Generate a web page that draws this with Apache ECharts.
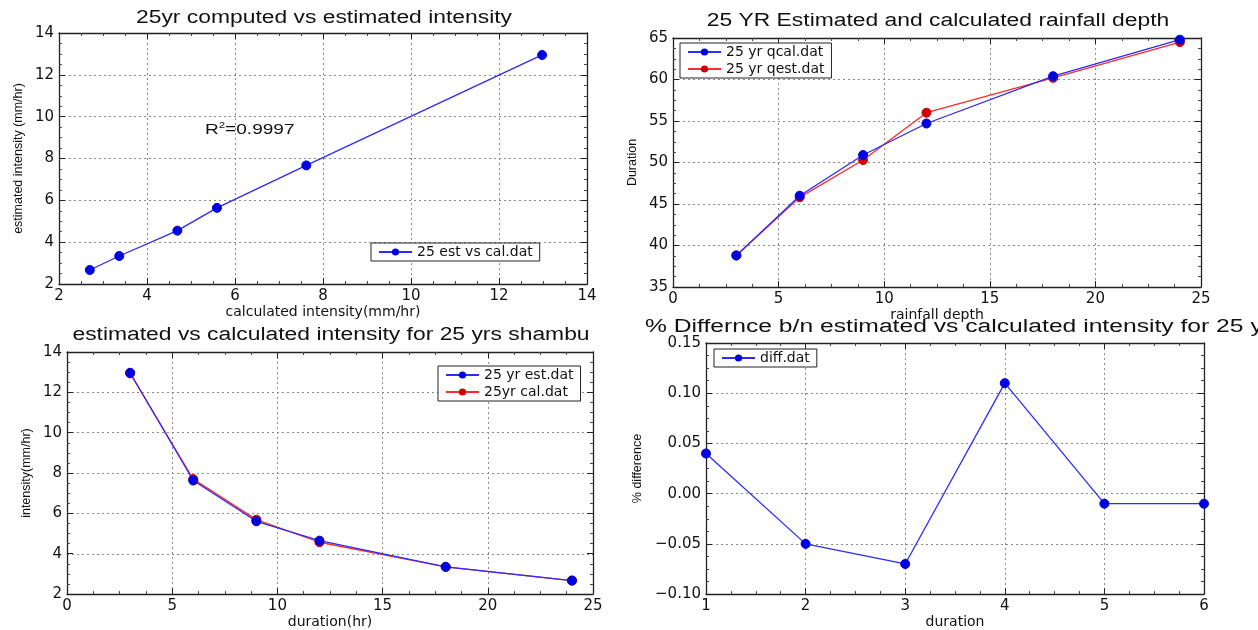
<!DOCTYPE html>
<html>
<head>
<meta charset="utf-8">
<script src="https://cdn.jsdelivr.net/npm/echarts@6/dist/echarts.min.js"></script>
<style>html,body{margin:0;padding:0;background:#fff}#c{width:1258px;height:630px}</style>
</head>
<body>
<div id="c"></div>
<script>
// ---- data ----
const p1Cal = [2.70, 3.37, 4.69, 5.59, 7.62, 12.98];
const p1Est = [2.67, 3.34, 4.55, 5.64, 7.67, 12.95];
const durations = [3, 6, 9, 12, 18, 24];
const depthCal = [38.8, 46.0, 50.9, 54.7, 60.4, 64.8];
const depthEst = [38.8, 45.8, 50.3, 56.0, 60.2, 64.5];
const intEst = [12.97, 7.63, 5.61, 4.65, 3.35, 2.67];
const intCal = [12.94, 7.70, 5.69, 4.57, 3.35, 2.67];
const diffX = [1, 2, 3, 4, 5, 6];
const diffVals = [0.04, -0.05, -0.07, 0.11, -0.01, -0.01];
const titles = [
  '25yr computed vs estimated intensity',
  '25 YR Estimated and calculated rainfall depth',
  'estimated vs calculated intensity for 25 yrs shambu',
  '% Differnce b/n estimated vs calculated intensity for 25 yrs shambu'
];

const FONT = 'Liberation Sans, Arial, sans-serif';
const WFONT = 'DejaVu Sans, Verdana, sans-serif';
const BLUE = '#2b2bff', BLUE_M = '#0000e0';
const RED = '#ff2a2a', RED_M = '#d00000';

function zip(a, b) { return a.map((v, i) => [v, b[i]]); }

function axisPair(kind, gi, min, max, interval, name, nameGap, fmt) {
  const common = {
    type: 'value', gridIndex: gi, min: min, max: max, interval: interval,
    axisLine: { show: true, onZero: false, lineStyle: { color: '#222', width: 1.3 } },
    axisTick: { show: true, inside: true, length: 6, lineStyle: { color: '#222' } },
    minorTick: { show: true, splitNumber: 4, length: 3, lineStyle: { color: '#444' } },
  };
  const primary = Object.assign({}, common, {
    position: kind === 'x' ? 'bottom' : 'left',
    name: name, nameLocation: 'middle', nameGap: nameGap,
    nameTextStyle: kind === 'x'
      ? { fontFamily: WFONT, fontSize: 14, color: '#111' }
      : { fontFamily: FONT, fontSize: 12.5, color: '#111' },
    axisLabel: { show: true, fontFamily: WFONT, fontSize: 15, color: '#111', margin: 5,
      formatter: fmt || (v => String(v)) },
    splitLine: { show: true, lineStyle: { color: '#8a8a8a', type: [2, 3], width: 1 } },
  });
  const secondary = Object.assign({}, common, {
    position: kind === 'x' ? 'top' : 'right',
    axisLabel: { show: false }, splitLine: { show: false },
  });
  return [primary, secondary];
}

function lineSeries(name, xi, yi, data, color, mcolor, z) {
  return {
    type: 'line', name: name, xAxisIndex: xi, yAxisIndex: yi, data: data,
    symbol: 'circle', symbolSize: 9, z: z || 2,
    lineStyle: { color: color, width: 1.3 },
    itemStyle: { color: mcolor, borderColor: mcolor },
    animation: false,
  };
}

const grids = [
  { left: 59, top: 33, width: 528, height: 251 },
  { left: 673, top: 38, width: 528, height: 249 },
  { left: 67, top: 352, width: 526, height: 249 },
  { left: 706, top: 343, width: 498, height: 254 },
];

const xAxes = [].concat(
  axisPair('x', 0, 2, 14, 2, 'calculated intensity(mm/hr)', 16),
  axisPair('x', 1, 0, 25, 5, 'rainfall depth', 16),
  axisPair('x', 2, 0, 25, 5, 'duration(hr)', 19),
  axisPair('x', 3, 1, 6, 1, 'duration', 20)
);
const yAxes = [].concat(
  axisPair('y', 0, 2, 14, 2, 'estimated intensity (mm/hr)', 34),
  axisPair('y', 1, 35, 65, 5, 'Duration', 34),
  axisPair('y', 2, 2, 14, 2, 'intensity(mm/hr)', 34),
  axisPair('y', 3, -0.10, 0.15, 0.05, '% difference', 62,
    v => (v < -1e-9 ? '\u2212' : '') + Math.abs(v).toFixed(2))
);

const legendBase = {
  orient: 'vertical', backgroundColor: '#fff', borderColor: '#222', borderWidth: 1,
  borderRadius: 0, padding: [2, 7, 2, 7], itemGap: 3, itemWidth: 33, itemHeight: 9,
  textStyle: { fontFamily: WFONT, fontSize: 14, color: '#111' },
};

function titleText(text, x, y, align, sx) {
  return { type: 'text', x: x, y: y, scaleX: sx, z: 10, silent: true,
    style: { text: text, fill: '#111', font: '18px ' + FONT, textAlign: align, textVerticalAlign: 'middle' } };
}

const option = {
  backgroundColor: '#fff',
  animation: false,
  grid: grids,
  xAxis: xAxes,
  yAxis: yAxes,
  legend: [
    Object.assign({}, legendBase, { left: 371, top: 243, data: ['25 est vs cal.dat'] }),
    Object.assign({}, legendBase, { left: 680, top: 43, data: ['25 yr qcal.dat', '25 yr qest.dat'] }),
    Object.assign({}, legendBase, { left: 438, top: 366, data: ['25 yr est.dat', '25yr cal.dat'] }),
    Object.assign({}, legendBase, { left: 714, top: 349, data: ['diff.dat'] }),
  ],
  graphic: [
    titleText(titles[0], 324, 18, 'center', 1.27),
    titleText(titles[1], 938, 21, 'center', 1.27),
    titleText(titles[2], 331, 335, 'center', 1.27),
    titleText(titles[3], 645, 327, 'left', 1.37),
    { type: 'text', x: 205, y: 130, scaleX: 1.27, z: 10, silent: true,
      style: { text: 'R{s|2}=0.9997', fill: '#111', font: '15px ' + FONT, textVerticalAlign: 'middle',
        rich: { s: { fontSize: 9, fill: '#111', padding: [0, 0, 8, 0] } } } }
  ],
  series: [
    lineSeries('25 est vs cal.dat', 0, 0, zip(p1Cal, p1Est), BLUE, BLUE_M),
    lineSeries('25 yr qest.dat', 2, 2, zip(durations, depthEst), RED, RED_M, 2),
    lineSeries('25 yr qcal.dat', 2, 2, zip(durations, depthCal), BLUE, BLUE_M, 3),
    lineSeries('25yr cal.dat', 4, 4, zip(durations, intCal), RED, RED_M, 2),
    lineSeries('25 yr est.dat', 4, 4, zip(durations, intEst), BLUE, BLUE_M, 3),
    lineSeries('diff.dat', 6, 6, zip(diffX, diffVals), BLUE, BLUE_M),
  ],
};

const chart = echarts.init(document.getElementById('c'), null, { renderer: 'canvas' });
chart.setOption(option);
</script>
</body>
</html>
